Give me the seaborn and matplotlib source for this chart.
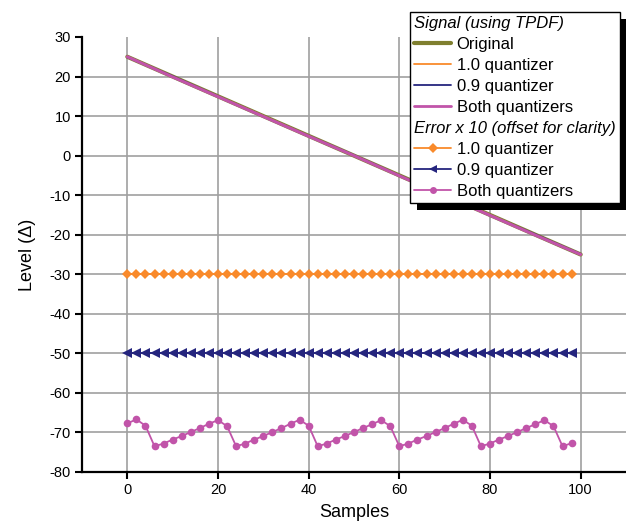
import numpy as np
import pandas as pd
import matplotlib
matplotlib.use("Agg")
import matplotlib.pyplot as plt
from matplotlib.lines import Line2D
from matplotlib.patches import Rectangle
import seaborn as sns

# ---- data -------------------------------------------------------------
# Input ramp and the quantized versions (levels in units of delta)
signal_x = [0, 10, 20, 30, 40, 50, 60, 70, 80, 90, 100]
original = [25.0, 20.0, 15.0, 10.0, 5.0, 0.0, -5.0, -10.0, -15.0, -20.0, -25.0]
q10_signal = [25.0, 20.0, 15.0, 10.0, 5.0, 0.0, -5.0, -10.0, -15.0, -20.0, -25.0]
q09_signal = [24.9, 20.1, 15.0, 9.9, 5.0, 0.1, -5.0, -10.0, -15.1, -19.9, -24.9]
both_signal = [25.0, 19.9, 14.9, 9.9, 4.9, 0.0, -5.1, -10.1, -15.1, -20.1, -25.0]

# Error x 10, offset for clarity, one point every two samples
err_x = [0, 2, 4, 6, 8, 10, 12, 14, 16, 18, 20, 22, 24, 26, 28, 30, 32, 34,
         36, 38, 40, 42, 44, 46, 48, 50, 52, 54, 56, 58, 60, 62, 64, 66, 68,
         70, 72, 74, 76, 78, 80, 82, 84, 86, 88, 90, 92, 94, 96, 98]
err_q10 = [-30.0] * 50
err_q09 = [-50.0] * 50
err_both = [-67.7, -66.7, -68.3, -73.5, -72.8, -71.8, -70.9, -69.9, -68.9, -67.8,
            -66.9, -68.4, -73.5, -72.8, -71.8, -70.9, -69.9, -68.9, -67.8, -66.8,
            -68.3, -73.5, -72.8, -71.8, -70.9, -69.9, -68.9, -67.9, -66.9, -68.4,
            -73.5, -72.8, -71.8, -70.9, -69.9, -68.9, -67.8, -66.8, -68.3, -73.5,
            -72.8, -71.8, -70.9, -69.9, -68.9, -67.9, -66.9, -68.4, -73.5, -72.7]

x_ticks = [0, 20, 40, 60, 80, 100]
y_ticks = [30, 20, 10, 0, -10, -20, -30, -40, -50, -60, -70, -80]

# ---- style ------------------------------------------------------------
sns.set_theme(style="white")
plt.rcParams["font.family"] = ["Liberation Sans", "DejaVu Sans"]

OLIVE = "#7f7f2f"
ORANGE = "#f98a2b"
NAVY = "#25257e"
PINK = "#c154a9"

fig = plt.figure(figsize=(6.26, 5.25), dpi=100)
ax = fig.add_axes([82 / 626, 53 / 525, 1 - 82 / 626, (472 - 37) / 525])

ax.grid(True, color="#a0a0a0", linewidth=1.2)
ax.set_axisbelow(True)

def draw(x, y, color, lw, marker=None, ms=None):
    sns.lineplot(x=x, y=y, ax=ax, color=color, linewidth=lw, marker=marker,
                 markersize=ms, markeredgewidth=0, estimator=None, sort=False,
                 legend=False, zorder=3)

draw(signal_x, original, OLIVE, 3.0)
draw(signal_x, q10_signal, ORANGE, 1.3)
draw(signal_x, q09_signal, NAVY, 1.3)
draw(signal_x, both_signal, PINK, 2.2)

draw(err_x, err_q10, ORANGE, 1.3, marker="D", ms=5.5)
draw(err_x, err_q09, NAVY, 1.3, marker="<", ms=6.5)
draw(err_x, err_both, PINK, 1.3, marker="o", ms=5.5)

ax.set_xlim(-10, 110)
ax.set_ylim(-80, 30)
ax.set_xticks(x_ticks)
ax.set_yticks(y_ticks)
ax.set_xticklabels([str(v) for v in x_ticks])
ax.set_yticklabels([str(v) for v in y_ticks])
# no horizontal grid line along the top of the plot
ax.get_ygridlines()[0].set_visible(False)

for side in ("top", "right"):
    ax.spines[side].set_visible(False)
for side in ("left", "bottom"):
    ax.spines[side].set_color("black")
    ax.spines[side].set_linewidth(1.6)

ax.tick_params(axis="both", which="major", direction="out", length=5,
               width=1.5, color="black", labelsize=10.5, labelcolor="black",
               bottom=True, left=True, pad=3)

ax.set_xlabel("Samples", fontsize=13, color="black", labelpad=5)
ax.set_ylabel("Level (\u0394)", fontsize=13, color="black", labelpad=10)

# ---- legend -----------------------------------------------------------
blank = Line2D([], [], linestyle="none")
handles = [
    blank,
    Line2D([], [], color=OLIVE, lw=3.0),
    Line2D([], [], color=ORANGE, lw=1.3),
    Line2D([], [], color=NAVY, lw=1.3),
    Line2D([], [], color=PINK, lw=2.0),
    blank,
    Line2D([], [], color=ORANGE, lw=1.3, marker="D", ms=5, markeredgewidth=0),
    Line2D([], [], color=NAVY, lw=1.3, marker="<", ms=6, markeredgewidth=0),
    Line2D([], [], color=PINK, lw=1.3, marker="o", ms=5, markeredgewidth=0),
]
labels = ["Signal (using TPDF)", "Original", "1.0 quantizer", "0.9 quantizer",
          "Both quantizers", "Error x 10 (offset for clarity)", "1.0 quantizer",
          "0.9 quantizer", "Both quantizers"]
header_rows = [0, 5]

leg = fig.legend(handles, labels, loc="upper left",
                 bbox_to_anchor=(410 / 626, 1 - 12 / 525),
                 bbox_transform=fig.transFigure, borderaxespad=0,
                 fontsize=12, frameon=True, fancybox=False, framealpha=1,
                 edgecolor="black", facecolor="white", handlelength=2.2,
                 handletextpad=0.35, labelspacing=0.36, borderpad=0.25,
                 numpoints=1)
leg.get_frame().set_linewidth(1.0)
leg.set_zorder(10)

# headers span the full row, in italics
rows = leg._legend_handle_box.get_children()[0].get_children()
for i in header_rows:
    rows[i]._children = [rows[i]._children[1]]
    leg.get_texts()[i].set_fontstyle("italic")
for t in leg.get_texts():
    t.set_color("black")

# solid drop shadow behind the legend box
fig.canvas.draw()
bb = leg.get_window_extent()
shadow = Rectangle((bb.x0 + 7, bb.y0 - 7), bb.width, bb.height,
                   transform=None, facecolor="black", edgecolor="none",
                   zorder=9)
fig.add_artist(shadow)

fig.savefig("out.png", dpi=100)
